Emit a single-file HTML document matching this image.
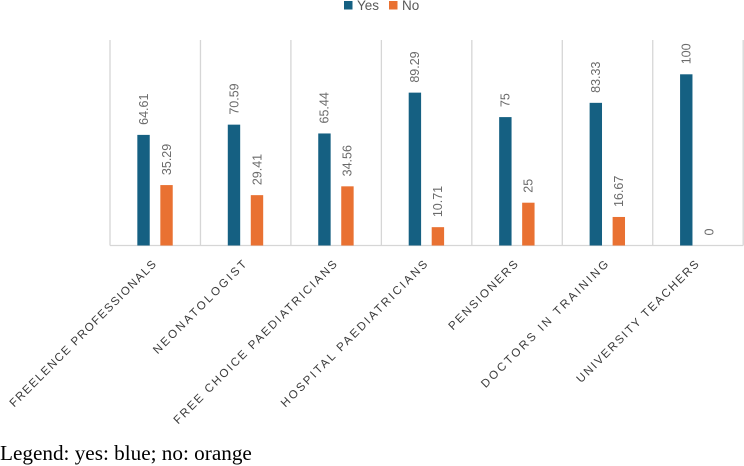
<!DOCTYPE html>
<html>
<head>
<meta charset="utf-8">
<style>
html,body{margin:0;padding:0;background:#fff;}
#wrap{position:relative;width:744px;height:466px;overflow:hidden;}
svg{position:absolute;left:0;top:0;}
text{font-family:"Liberation Sans",sans-serif;}
</style>
</head>
<body>
<div id="wrap">
<svg id="chart" width="744" height="466" viewBox="0 0 744 466" xmlns="http://www.w3.org/2000/svg">
  <g>
    <rect x="344" y="1" width="8.5" height="8.5" fill="#156082"></rect>
    <text x="357" y="10" font-size="13.5" fill="#595959">Yes</text>
    <rect x="389" y="1" width="8.5" height="8.5" fill="#E97132"></rect>
    <text x="402" y="10" font-size="13.5" fill="#595959">No</text>
  </g>
  <g id="grid"></g>
  <g id="bars"></g>
  <g id="values"></g>
  <g id="cats"></g>
  <text x="0" y="460" font-size="21.2" fill="#000" style='font-family:"Liberation Serif",serif'>Legend: yes: blue; no: orange</text>
</svg>
</div>
<script>
const categories = ["FREELENCE PROFESSIONALS","NEONATOLOGIST","FREE CHOICE PAEDIATRICIANS","HOSPITAL PAEDIATRICIANS","PENSIONERS","DOCTORS IN TRAINING","UNIVERSITY TEACHERS"];
const yesValues = [64.61,70.59,65.44,89.29,75,83.33,100];
const noValues = [35.29,29.41,34.56,10.71,25,16.67,0];

const NS = "http://www.w3.org/2000/svg";
const plotLeft = 110, plotRight = 743.2, plotTop = 40, plotBottom = 245.5, unit = 1.712;
const step = (plotRight - plotLeft) / categories.length;
const barW = 12.4;
/* approximate advance widths of the reference's humanist typeface, in em */
const glyphEm = {A:.633,C:.631,D:.73,E:.496,F:.419,G:.726,H:.739,I:.279,L:.419,N:.813,O:.78,P:.605,R:.622,S:.449,T:.553,U:.729,V:.6,Y:.567," ":.26};
function labelLength(s){
  let w = 0;
  for (const ch of s) w += glyphEm[ch] * 11.5 + 2.6;
  return w;
}
function xBand(i){ return plotLeft + step * i; }
function yVal(v){ return plotBottom - v * unit; }
function make(tag, attrs, parent){
  const el = document.createElementNS(NS, tag);
  for (const k in attrs) el.setAttribute(k, attrs[k]);
  parent.appendChild(el);
  return el;
}
const grid = document.getElementById("grid");
const bars = document.getElementById("bars");
const values = document.getElementById("values");
const cats = document.getElementById("cats");

for (let i = 0; i <= categories.length; i++) {
  const line = make("line", {x1:xBand(i), x2:xBand(i), y1:plotTop, y2:plotBottom, stroke:"#d6d6d6", "stroke-width":1.3}, grid);
  
  
}
const axis = make("line", {x1:plotLeft, x2:plotRight, y1:plotBottom, y2:plotBottom, stroke:"#d6d6d6", "stroke-width":1.3}, grid);



function drawBar(v, x, color, name){
  const top = yVal(v);
  if (v > 0) {
    const r = make("rect", {x:x, y:top, width:barW, height:plotBottom - top, fill:color}, bars);
    
    
  }
  const cx = x + barW / 2 + 4.3, by = top - 10;
  const t = make("text", {x:cx, y:by, "font-size":12.5, fill:"#6b6b6b", transform:"rotate(-90 " + cx + " " + by + ")"}, values);
  t.textContent = String(v);
  
  
}

categories.forEach(function(c, i){
  const center = xBand(i) + step / 2;
  drawBar(yesValues[i], center - 17.9, "#156082", "bar-yes");
  drawBar(noValues[i], center + 5.1, "#E97132", "bar-no");
  const lx = center + 1.5, ly = 265;
  const t = make("text", {x:lx, y:ly, "font-size":11.6, textLength:labelLength(c), lengthAdjust:"spacing", fill:"#3a3a3a", "text-anchor":"end", transform:"rotate(-45 " + lx + " " + ly + ")"}, cats);
  t.textContent = c;
  
  
});
</script>
</body>
</html>
